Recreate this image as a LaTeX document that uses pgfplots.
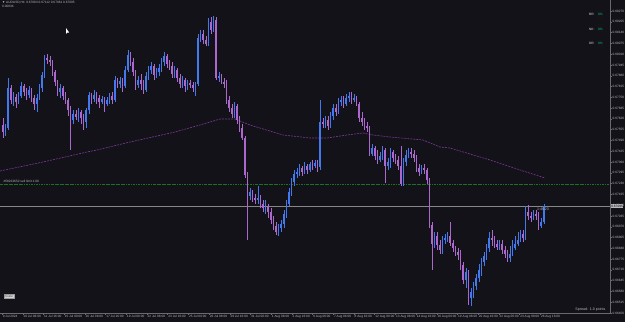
\documentclass[border=0pt]{standalone}
\usepackage{fontspec}
\setmainfont{Liberation Sans}
\usepackage{pgfplots}
\usepackage{pgfplotstable}
\pgfplotsset{compat=1.18}
\definecolor{bgc}{RGB}{18,18,24}
\definecolor{upc}{RGB}{66,120,240}
\definecolor{dnc}{RGB}{172,104,204}
\definecolor{mac}{RGB}{125,55,150}
\definecolor{grc}{RGB}{25,115,35}
\definecolor{pxc}{RGB}{135,135,135}
\definecolor{axc}{RGB}{105,105,110}
\definecolor{txc}{RGB}{185,185,190}
\definecolor{cyc}{RGB}{0,190,200}
\newcommand{\lbl}{\fontsize{3.2}{3.6}\selectfont}
\tikzset{
  lab/.style={anchor=east, inner sep=0.3bp, text=white!90!black, font=\lbl},
  pct/.style={anchor=center, minimum width=7bp, minimum height=9bp, inner sep=0pt, fill=black!92, text=cyc, font=\lbl},
}
\pgfplotsset{
  upf/.style={restrict expr to domain={\thisrow{c}-\thisrow{o}}{-1000:-0.5}},
  dnf/.style={restrict expr to domain={\thisrow{c}-\thisrow{o}}{0:1000}},
  body/.style={draw=none, no markers, error bars/.cd, y dir=both, y explicit, error mark=none, error bar style={line width=1.6bp, draw=#1}},
  wick/.style={draw=none, no markers, error bars/.cd, y dir=both, y explicit, error mark=none, error bar style={line width=0.5bp, draw=#1}},
}
% candles: i = bar index, o h l c in chart rows (row 0 = top)
\pgfplotstableread{
i o h l c
0 125 118 138 132
1 132 124 136 128
2 128 78 130 88
3 88 85 104 100
4 100 92 106 97
5 97 94 108 102
6 102 92 104 96
7 96 82 98 86
8 86 84 96 92
9 92 88 100 95
10 95 86 98 90
11 90 88 102 98
12 98 95 110 104
13 104 94 112 98
14 98 84 100 88
15 88 72 92 75
16 75 55 78 58
17 58 54 64 60
18 60 56 66 62
19 62 60 76 72
20 72 70 86 82
21 82 80 96 92
22 92 84 98 88
23 88 86 100 96
24 96 92 104 100
25 100 98 116 110
26 110 106 150 120
27 120 110 124 114
28 114 110 120 117
29 117 108 122 112
30 112 110 124 118
31 118 114 130 122
32 122 108 128 110
33 110 92 114 95
34 95 93 104 99
35 99 90 102 95
36 95 92 104 98
37 98 95 108 102
38 102 96 104 99
39 99 97 112 104
40 104 97 106 100
41 100 93 104 96
42 96 92 104 100
43 100 76 102 80
44 80 78 88 84
45 84 77 88 81
46 81 78 92 86
47 86 66 88 70
48 70 50 72 55
49 55 52 66 62
50 62 58 76 72
51 72 70 90 85
52 85 76 88 80
53 80 74 90 84
54 84 80 94 90
55 90 72 92 76
56 76 66 80 70
57 70 62 74 66
58 66 64 80 75
59 75 68 78 72
60 72 64 76 68
61 68 58 72 62
62 62 52 66 56
63 56 54 68 64
64 64 60 70 66
65 66 62 78 74
66 74 66 78 70
67 70 68 82 78
68 78 74 88 84
69 84 76 88 80
70 80 78 92 86
71 86 80 90 83
72 83 80 88 85
73 85 82 92 88
74 88 82 96 84
75 84 34 86 38
76 38 30 42 34
77 34 30 44 40
78 40 36 46 44
79 44 18 46 22
80 22 17 34 30
81 30 16 32 20
82 20 17 80 78
83 78 72 82 76
84 76 74 84 82
85 82 78 88 84
86 84 80 104 100
87 100 96 112 108
88 108 104 118 114
89 114 102 118 106
90 106 104 124 120
91 120 116 132 128
92 128 124 140 138
93 138 136 178 175
94 175 172 240 196
95 196 188 200 192
96 192 190 202 198
97 198 194 204 200
98 200 186 204 198
99 198 195 208 204
100 204 200 212 208
101 208 200 214 206
102 206 204 218 212
103 212 208 224 220
104 220 216 230 226
105 226 222 235 232
106 232 224 236 228
107 228 220 232 224
108 224 210 228 214
109 214 200 218 204
110 204 188 206 192
111 192 178 196 182
112 182 170 186 174
113 174 168 178 172
114 172 164 176 168
115 168 166 176 172
116 172 162 174 166
117 166 164 174 170
118 170 162 172 164
119 164 160 170 166
120 166 160 168 163
121 163 160 172 167
122 167 100 170 122
123 122 118 128 124
124 124 116 128 120
125 120 116 130 126
126 126 112 128 116
127 116 104 120 108
128 108 104 116 112
129 112 98 114 102
130 102 96 106 100
131 100 96 108 104
132 104 94 106 98
133 98 92 102 96
134 96 92 104 100
135 100 94 102 98
136 98 96 106 104
137 104 102 122 118
138 118 112 126 122
139 122 118 130 126
140 126 122 132 128
141 128 126 156 154
142 154 144 156 148
143 148 146 160 156
144 156 150 164 160
145 160 152 162 156
146 156 146 160 150
147 150 148 183 166
148 166 158 170 162
149 162 148 168 152
150 152 150 162 158
151 158 154 164 160
152 160 156 170 166
153 166 146 186 184
154 184 158 186 162
155 162 150 166 155
156 155 148 158 152
157 152 148 158 154
158 154 150 162 158
159 158 155 172 168
160 168 164 176 172
161 172 165 174 168
162 168 164 174 170
163 170 168 184 180
164 180 178 228 225
165 225 222 270 244
166 244 232 248 236
167 236 232 250 245
168 245 240 254 250
169 250 236 254 240
170 240 234 244 238
171 238 232 242 236
172 236 222 246 243
173 243 240 252 248
174 248 246 256 252
175 252 248 260 255
176 255 250 270 265
177 265 262 284 280
178 280 268 288 272
179 272 270 305 298
180 298 288 306 292
181 292 282 298 286
182 286 274 290 278
183 278 264 282 270
184 270 258 276 262
185 262 252 266 256
186 256 244 260 248
187 248 232 252 238
188 238 230 246 240
189 240 236 248 244
190 244 240 250 247
191 247 240 250 244
192 244 240 254 250
193 250 246 258 254
194 254 250 262 258
195 258 246 262 254
196 254 240 256 248
197 248 236 250 244
198 244 232 246 240
199 240 230 242 234
200 234 230 242 238
201 238 206 240 212
202 212 205 220 216
203 216 212 222 218
204 218 210 220 214
205 214 210 220 216
206 216 212 230 226
207 226 218 228 222
208 222 204 224 206
}\candles
\begin{document}
\begin{tikzpicture}
\path[use as bounding box] (0,0) rectangle (625bp,322bp);
\fill[bgc] (0,0) rectangle (625bp,322bp);
\begin{axis}[
  at={(0bp,9bp)}, anchor=south west,
  scale only axis, width=610bp, height=313bp,
  xmin=0, xmax=610, ymin=0, ymax=313, y dir=reverse,
  clip=false,
  axis x line*=bottom, axis y line*=right,
  axis line style={draw=axc, line width=0.5bp},
  tick align=outside, major tick length=1.8bp,
  tick style={draw=axc, line width=0.4bp},
  /pgf/number format/assume math mode=true,
  xtick={2,22.7,43.4,64.1,84.8,105.5,126.2,146.9,167.6,188.3,209,229.7,250.4,271.1,291.8,312.5,333.2,353.9,374.6,395.3,416,436.7,457.4,478.1,498.8,519.5,540.2},
  xticklabels={9 Jul 2024,10 Jul 08:00,11 Jul 16:00,15 Jul 00:00,16 Jul 08:00,17 Jul 16:00,19 Jul 00:00,22 Jul 08:00,23 Jul 16:00,25 Jul 00:00,26 Jul 08:00,29 Jul 16:00,31 Jul 00:00,1 Aug 08:00,2 Aug 16:00,6 Aug 00:00,7 Aug 08:00,8 Aug 16:00,12 Aug 00:00,13 Aug 08:00,14 Aug 16:00,16 Aug 00:00,19 Aug 08:00,20 Aug 16:00,22 Aug 00:00,23 Aug 08:00,26 Aug 16:00},
  ytick={11,21.79,32.57,43.36,54.14,64.93,75.71,86.5,97.29,108.07,118.86,129.64,140.43,151.21,162,172.79,183.57,194.36,205.14,215.93,226.71,237.5,248.29,259.07,269.86,280.64,291.43,302.21,313},
  yticklabels={0.68270,0.68205,0.68140,0.68075,0.68010,0.67945,0.67880,0.67815,0.67750,0.67685,0.67620,0.67555,0.67490,0.67425,0.67360,0.67295,0.67230,0.67165,0.67100,0.67035,0.66970,0.66905,0.66840,0.66775,0.66710,0.66645,0.66580,0.66515,0.66450},
  xticklabel style={anchor=north west, inner sep=0.6bp, text=txc, font=\lbl},
  yticklabel style={anchor=west, inner sep=0.6bp, text=txc, font=\lbl},
]
% horizontal levels
\addplot[grc, line width=0.5bp, dash pattern=on 2.5bp off 1bp on 0.6bp off 1bp] coordinates {(0,184) (610,184)};
\addplot[pxc, line width=0.5bp] coordinates {(0,206) (610,206)};
% moving average
\addplot[mac, line width=0.6bp, dash pattern=on 2bp off 1bp] coordinates {
(0,171) (43,162) (87,152) (97,150) (130,142) (175,132) (200,125) (220,119) (235,119) (250,125) (283,135) (310,138) (327,138) (347,135) (363,133) (373,135) (390,137) (423,140) (440,147) (450,148) (490,160) (520,170) (545,178)};
% wicks
\addplot[upf, wick=upc] table[x expr=3+2.6*\thisrow{i}, y expr={(\thisrow{h}+\thisrow{l})/2}, y error expr={(\thisrow{l}-\thisrow{h})/2}] {\candles};
\addplot[dnf, wick=dnc] table[x expr=3+2.6*\thisrow{i}, y expr={(\thisrow{h}+\thisrow{l})/2}, y error expr={(\thisrow{l}-\thisrow{h})/2}] {\candles};
% bodies
\addplot[upf, body=upc] table[x expr=3+2.6*\thisrow{i}, y expr={(\thisrow{o}+\thisrow{c})/2}, y error expr={max(abs(\thisrow{o}-\thisrow{c})/2,0.5)}] {\candles};
\addplot[dnf, body=dnc] table[x expr=3+2.6*\thisrow{i}, y expr={(\thisrow{o}+\thisrow{c})/2}, y error expr={max(abs(\thisrow{o}-\thisrow{c})/2,0.5)}] {\candles};
% texts
\node[anchor=north west, inner sep=0pt, text=txc, font=\lbl, align=left] at (axis cs:2,1.5) {▼ AUDUSD,H4\enspace 0.67083 0.67112 0.67061 0.67095\\0.00034};
\node[anchor=south west, inner sep=0.4bp, text=txc, font=\lbl] at (axis cs:3,183) {\#58223652 sell limit 1.00};
\node[anchor=north, inner sep=0.4bp, text=txc, font=\fontsize{3.6}{4}\selectfont] at (axis cs:543,207.5) {1:46:23};
\node[anchor=west, inner sep=0.6bp, fill=txc, text=black, font=\lbl] at (axis cs:610.5,206) {0.67095};
\node[anchor=south east, inner sep=0.4bp, text=txc, font=\fontsize{3.6}{4}\selectfont] at (axis cs:606,312) {Spread:\enspace 1.0 points};
\node[anchor=west, inner sep=0.8bp, fill=white!82!black, draw=white!60!black, line width=0.3bp, text=black!70, font=\lbl] at (axis cs:4,296) {Scale};
% top-right info
\node[lab] at (axis cs:595,14.5) {BR:};
\node[pct] at (axis cs:600.5,14.5) {0\%};
\node[lab] at (axis cs:595,29) {NK:};
\node[pct] at (axis cs:600.5,29) {0\%};
\node[lab] at (axis cs:595,43.5) {DR:};
\node[pct] at (axis cs:600.5,43.5) {0\%};
% mouse pointer
\fill[white] (axis cs:66,28) -- (axis cs:66,34) -- (axis cs:67.3,32.6) -- (axis cs:69.2,32.6) -- cycle;
\end{axis}
\end{tikzpicture}
\end{document}
